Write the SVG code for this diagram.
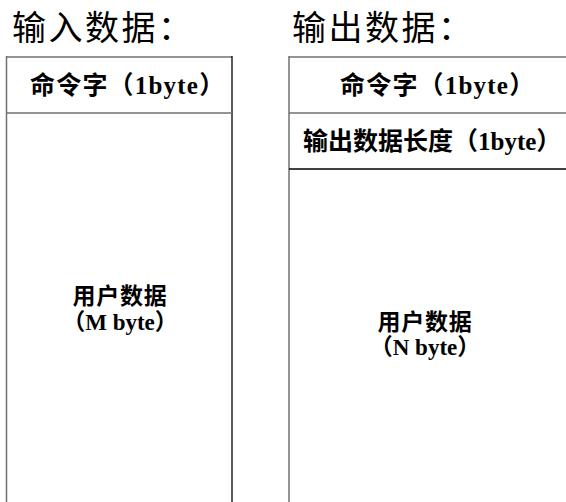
<svg xmlns="http://www.w3.org/2000/svg" width="566" height="502" viewBox="0 0 566 502">
<style>
.title{font-family:"Noto Sans CJK SC","Noto Sans",sans-serif;font-size:34px;letter-spacing:2.5px;fill:#000}
.hd{font-family:"Liberation Serif","Noto Sans CJK SC",serif;font-size:25px;font-weight:bold;fill:#000}
.ud{font-family:"Liberation Serif","Noto Sans CJK SC",serif;font-size:23px;font-weight:bold;fill:#000;text-anchor:middle}
.g{stroke:#707070;stroke-width:1.5;fill:none}
.k{stroke:#000;stroke-width:1.3;fill:none}
</style>
<rect width="566" height="502" fill="#fff"/>
<text class="title" x="12" y="40">输入数据：</text>
<text class="title" x="292" y="40">输出数据：</text>
<g id="input-table">
<line class="g" x1="6.5" y1="57" x2="232" y2="57"/>
<line class="g" x1="6.5" y1="56" x2="6.5" y2="502"/>
<line class="k" x1="232" y1="56" x2="232" y2="502"/>
<line class="g" x1="6.5" y1="113" x2="232" y2="113"/>
</g>
<g id="in-cmd"><text class="hd" x="30" y="94" letter-spacing="1.2">命令字（1byte）</text></g>
<g id="in-user"><text class="ud" x="120" y="304" letter-spacing="0.8">用户数据</text><text class="ud" x="120" y="330">（M byte）</text></g>
<g id="output-table">
<line class="g" x1="289" y1="57" x2="566" y2="57"/>
<line class="g" x1="289" y1="56" x2="289" y2="502"/>
<line class="g" x1="289" y1="113" x2="566" y2="113"/>
<line class="k" x1="289" y1="169" x2="566" y2="169"/>
</g>
<g id="out-cmd"><text class="hd" x="340" y="94" letter-spacing="1.2">命令字（1byte）</text></g>
<g id="out-len"><text class="hd" x="303" y="150">输出数据长度（1byte）</text></g>
<g id="out-user"><text class="ud" x="425" y="330" letter-spacing="0.8">用户数据</text><text class="ud" x="425" y="355">（N byte）</text></g>
<g id="connectors"></g>
</svg>
